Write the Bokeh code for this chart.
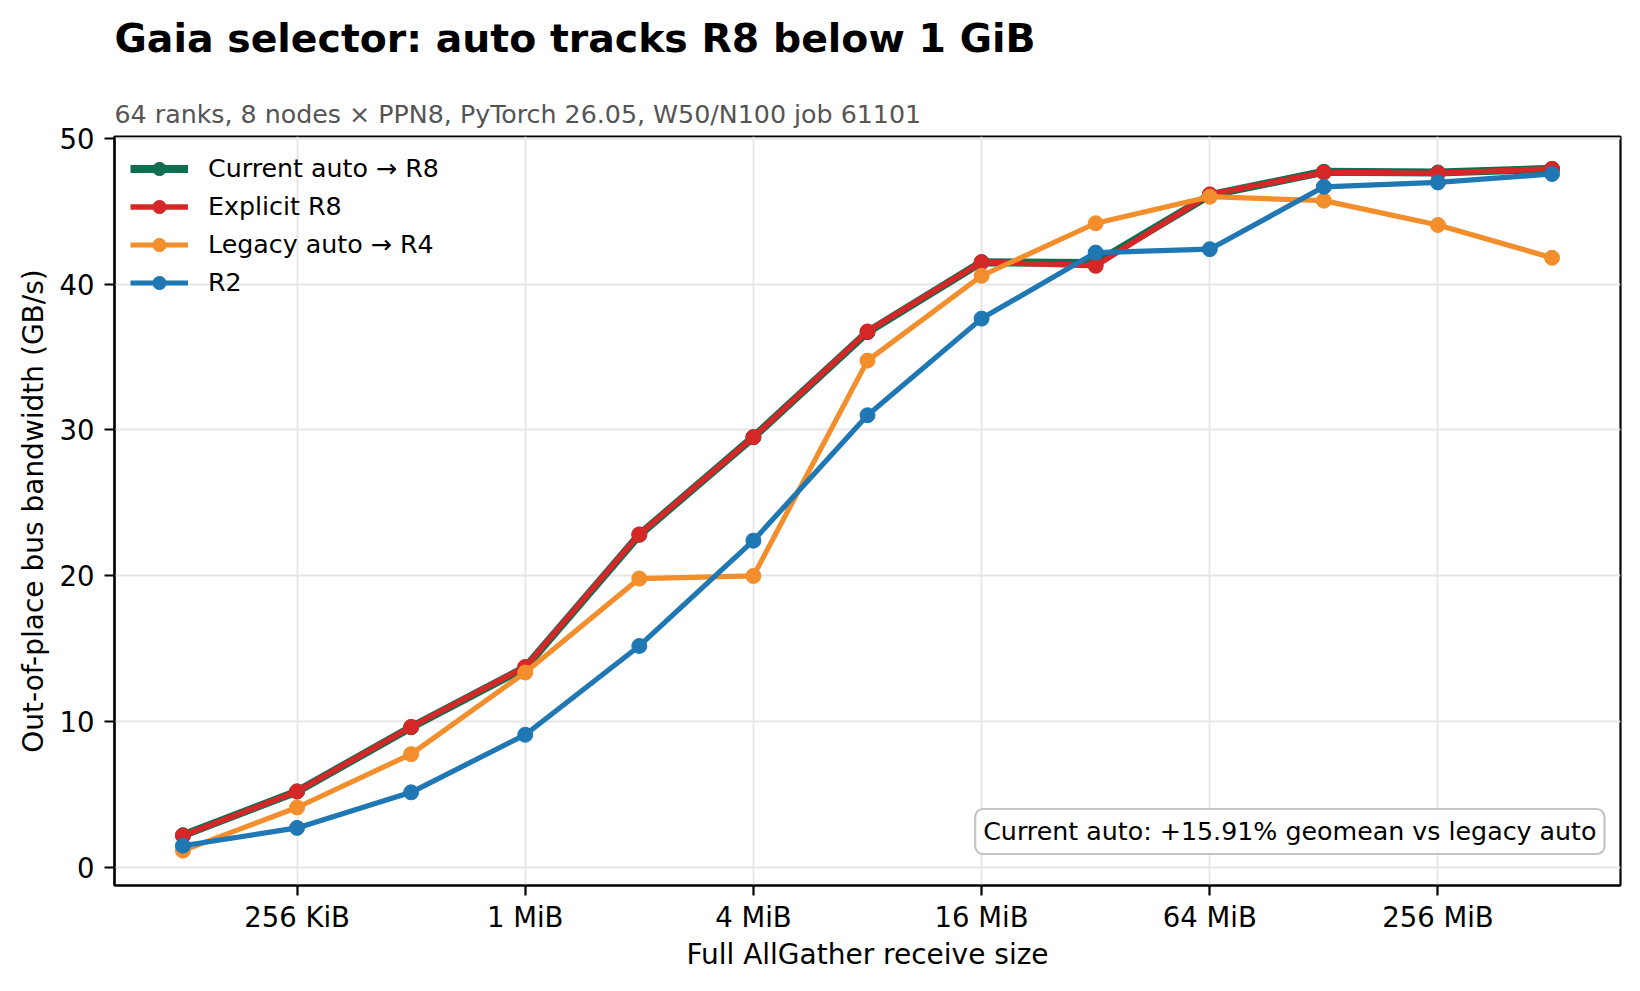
from bokeh.plotting import figure
from bokeh.models import Range1d, FixedTicker, Legend, LegendItem, Label, Title
from bokeh.embed import file_html
from bokeh.resources import INLINE

# ---- data ----
sizes_bytes = [131072, 262144, 524288, 1048576, 2097152, 4194304, 8388608,
               16777216, 33554432, 67108864, 134217728, 268435456, 536870912]
current_auto = [2.2, 5.2, 9.6, 13.7, 22.8, 29.5, 36.7, 41.5, 41.45, 46.1, 47.7, 47.65, 47.9]
explicit_r8 = [2.17, 5.2, 9.63, 13.74, 22.83, 29.5, 36.75, 41.5, 41.25, 46.15, 47.65, 47.6, 47.9]
legacy_auto = [1.14, 4.1, 7.76, 13.36, 19.8, 19.98, 34.75, 40.57, 44.17, 45.99, 45.72, 44.05, 41.8]
r2 = [1.48, 2.7, 5.14, 9.09, 15.18, 22.4, 31.0, 37.63, 42.16, 42.39, 46.67, 46.97, 47.55]

tick_values = [262144, 1048576, 4194304, 16777216, 67108864, 268435456]
tick_labels = ["256 KiB", "1 MiB", "4 MiB", "16 MiB", "64 MiB", "256 MiB"]
y_ticks = [0, 10, 20, 30, 40, 50]

series_names = ["Current auto \u2192 R8", "Explicit R8", "Legacy auto \u2192 R4", "R2"]
series_colors = ["#0f6e4f", "#d62728", "#f28e2b", "#1f77b4"]
series_widths = [8, 5.5, 5.2, 5.2]

title_text = "Gaia selector: auto tracks R8 below 1 GiB"
subtitle_text = "64 ranks, 8 nodes \u00d7 PPN8, PyTorch 26.05, W50/N100 job 61101"
note_text = "Current auto: +15.91% geomean vs legacy auto"

FONT = "DejaVu Sans"

pad = 2 ** 0.6
p = figure(width=1632, height=983, x_axis_type="log",
           x_range=Range1d(min(sizes_bytes) / pad, max(sizes_bytes) * pad),
           y_range=Range1d(-1.25, 50.12),
           output_backend="svg", toolbar_location=None, title=None,
           min_border_left=114, min_border_right=12, min_border_top=136,
           min_border_bottom=98)

# titles (subtitle nearest the frame, then a spacer, then the main title)
sub = Title(text=subtitle_text, text_font=FONT, text_font_size="25.3px",
            text_font_style="normal", text_color="#555555", standoff=16, align="left")
spacer = Title(text=" ", text_font=FONT, text_font_size="4px", standoff=8.5, align="left")
main = Title(text=title_text, text_font=FONT, text_font_size="39.4px",
             text_font_style="bold", text_color="#000000", standoff=25, align="left")
p.add_layout(sub, "above")
p.add_layout(spacer, "above")
p.add_layout(main, "above")

# axes
p.xaxis.ticker = FixedTicker(ticks=tick_values, minor_ticks=[])
p.xaxis.major_label_overrides = {v: l for v, l in zip(tick_values, tick_labels)}
p.yaxis.ticker = FixedTicker(ticks=y_ticks, minor_ticks=[])
for ax in (p.xaxis[0], p.yaxis[0]):
    ax.major_label_text_font = FONT
    ax.major_label_text_font_size = "27.5px"
    ax.major_label_text_color = "#000000"
    ax.axis_label_text_font = FONT
    ax.axis_label_text_font_size = "28px"
    ax.axis_label_text_font_style = "normal"
    ax.axis_label_text_color = "#000000"
    ax.axis_line_color = "#000000"
    ax.axis_line_width = 2.2
    ax.major_tick_line_color = "#000000"
    ax.major_tick_line_width = 2.2
    ax.major_tick_out = 10
    ax.major_tick_in = 0
    ax.minor_tick_line_color = None
p.xaxis.major_label_standoff = 5
p.yaxis.major_label_standoff = 10
p.xaxis.axis_label = "Full AllGather receive size"
p.yaxis.axis_label = "Out-of-place bus bandwidth (GB/s)"
p.xaxis.axis_label_standoff = 2
p.yaxis.axis_label_standoff = 7

p.outline_line_color = "#000000"
p.outline_line_width = 2.2
p.xgrid.grid_line_color = "#e6e6e6"
p.ygrid.grid_line_color = "#e6e6e6"
p.xgrid.grid_line_width = 1.8
p.ygrid.grid_line_width = 1.8

# series
all_series = [current_auto, explicit_r8, legacy_auto, r2]
items = []
for name, ys, color, lw in zip(series_names, all_series, series_colors, series_widths):
    r_line = p.line(sizes_bytes, ys, line_color=color, line_width=lw)
    r_pts = p.scatter(sizes_bytes, ys, size=15, fill_color=color, line_color=color, line_width=1)
    items.append(LegendItem(label=name, renderers=[r_line, r_pts]))

legend = Legend(items=items, location="top_left", margin=8, padding=8,
                glyph_width=58, glyph_height=33, label_height=25, spacing=5,
                label_standoff=20, label_text_font=FONT, label_text_font_size="25.3px",
                label_text_color="#000000", border_line_alpha=0,
                background_fill_alpha=0)
p.add_layout(legend, "center")

note = Label(x=1506 - 16, y=54, x_units="screen", y_units="screen",
             text=note_text, text_font=FONT, text_font_size="25.3px",
             text_color="#000000", text_align="right", text_baseline="middle",
             background_fill_color="#ffffff", background_fill_alpha=0.9,
             border_line_color="#c4c4c4", border_line_width=2.2,
             padding=8, border_radius=8)
p.add_layout(note)

open("out.html", "w").write(file_html(p, INLINE))
